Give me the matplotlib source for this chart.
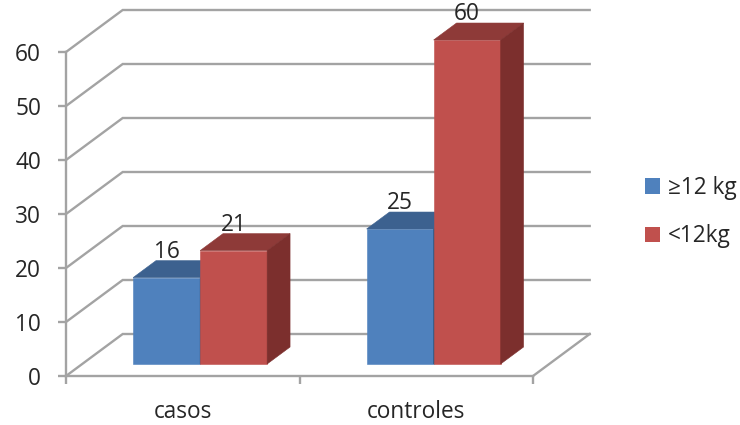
"""Grouped pseudo-3D column chart: casos / controles by weight class."""
import matplotlib
matplotlib.use("Agg")
import matplotlib.pyplot as plt
from matplotlib.patches import Patch, Polygon

GROUPS = ["casos", "controles"]
SERIES = ["≥12 kg", "<12kg"]
HIGH = [16, 25]
LOW = [21, 60]
Y_TICKS = [0, 10, 20, 30, 40, 50, 60]

# (front, top, side) shades per series
BLUE = ("#4f81bd", "#3c618f", "#335379")
RED = ("#c0504d", "#8e3a38", "#7c2f2d")
GRID = "#a3a3a3"
TEXT = "#262626"
FONT_SIZE = 16.3
LINE_W = 1.7

# oblique projection: depth 1 shifts this far, in data units
DEPTH_X = 56.7 / 233.5
DEPTH_Y = 42 / 5.4
BAR_W = 0.287
BAR_OFFSET = 0.218
D_FRONT = 0.286
D_BACK = 0.69

plt.rcParams["font.family"] = ["Open Sans", "DejaVu Sans"]


def project(x, y, d):
    return (x + d * DEPTH_X, y + d * DEPTH_Y)


def draw_bar(ax, x, value, colors, zorder):
    x0, x1 = x, x + BAR_W
    front = [project(x0, 0, D_FRONT), project(x1, 0, D_FRONT),
             project(x1, value, D_FRONT), project(x0, value, D_FRONT)]
    top = [project(x0, value, D_FRONT), project(x1, value, D_FRONT),
           project(x1, value, D_BACK), project(x0, value, D_BACK)]
    side = [project(x1, 0, D_FRONT), project(x1, 0, D_BACK),
            project(x1, value, D_BACK), project(x1, value, D_FRONT)]
    for pts, c in zip((front, top, side), colors):
        ax.add_patch(Polygon(pts, closed=True, facecolor=c, edgecolor=c,
                             linewidth=0.4, zorder=zorder, clip_on=False))
    # value label sits just above the back edge of the top face
    ax.annotate(str(value), xy=project(x0 + BAR_W / 2, value, D_FRONT),
                xytext=(0, 14.2), textcoords="offset points", ha="center",
                va="baseline", fontsize=FONT_SIZE, color=TEXT,
                annotation_clip=False, zorder=10)


fig = plt.figure(figsize=(7.4, 4.25), dpi=100)
ax = fig.add_axes([66 / 740, 49 / 425, 467 / 740, 324 / 425])
ax.set_xlim(0, len(GROUPS))
ax.set_ylim(0, 60)
ax.patch.set_visible(False)

for s in ("top", "right"):
    ax.spines[s].set_visible(False)
for s in ("left", "bottom"):
    ax.spines[s].set_color(GRID)
    ax.spines[s].set_linewidth(LINE_W)

ax.set_yticks(Y_TICKS)
ax.set_xticks(range(len(GROUPS) + 1))
ax.set_xticklabels([])
ax.set_xticks([i + 0.5 for i in range(len(GROUPS))], labels=GROUPS, minor=True)
ax.tick_params(axis="y", length=6, width=LINE_W, color=GRID, labelsize=FONT_SIZE,
               labelcolor=TEXT, pad=12)
ax.tick_params(axis="x", which="major", length=5.5, width=LINE_W, color=GRID)
ax.tick_params(axis="x", which="minor", length=0, labelsize=FONT_SIZE,
               labelcolor=TEXT, pad=17)

# side wall and back wall grid lines
xmax = len(GROUPS)
for v in Y_TICKS:
    pts = [project(0, v, 0), project(0, v, 1), project(xmax, v, 1)]
    ax.plot(*zip(*pts), color=GRID, lw=LINE_W, clip_on=False, zorder=1,
            solid_joinstyle="miter")
# floor edge on the right
pts = [project(xmax, 0, 0), project(xmax, 0, 1)]
ax.plot(*zip(*pts), color=GRID, lw=LINE_W, clip_on=False, zorder=1)

for i in range(len(GROUPS)):
    draw_bar(ax, i + BAR_OFFSET, HIGH[i], BLUE, 3)
    draw_bar(ax, i + BAR_OFFSET + BAR_W, LOW[i], RED, 4)

handles = [Patch(facecolor=BLUE[0], label=SERIES[0]),
           Patch(facecolor=RED[0], label=SERIES[1])]
fig.legend(handles=handles, loc="upper left",
           bbox_to_anchor=(645 / 740, 1 - 176 / 425), frameon=False,
           fontsize=FONT_SIZE, labelcolor=TEXT, handlelength=0.65,
           handleheight=0.65, handletextpad=0.35, labelspacing=1.08,
           borderpad=0, borderaxespad=0)

fig.savefig("out.png", dpi=100)
plt.close(fig)
